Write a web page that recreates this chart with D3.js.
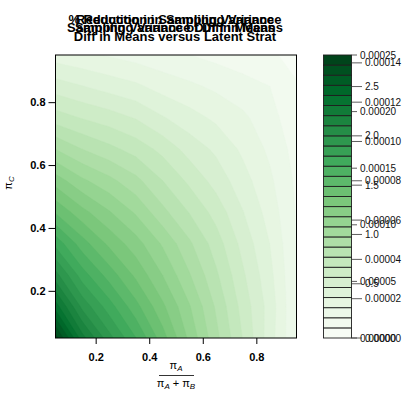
<!DOCTYPE html>
<html>
<head>
<meta charset="utf-8">
<script src="https://cdn.jsdelivr.net/npm/d3@7"></script>
<style>
  body { margin: 0; background: #fff; }
  text { font-family: "Liberation Sans", Arial, sans-serif; }
</style>
</head>
<body>
<div id="chart"></div>
<script>
// grid points: pi_A/(pi_A+pi_B) across, pi_C up
const xVals = [0.05, 0.15, 0.25, 0.35, 0.45, 0.55, 0.65, 0.75, 0.85, 0.95];
const yVals = [0.05, 0.15, 0.25, 0.35, 0.45, 0.55, 0.65, 0.75, 0.85, 0.95];

// sampling variance (x 1e-5), one row per pi_C value, from 0.05 upward
const varGrid = [
  [24.55, 20.00, 17.30, 15.20, 12.90, 10.50, 8.30, 6.20, 4.00, 1.79],
  [21.00, 17.60, 15.60, 13.70, 11.80, 9.90, 7.90, 5.90, 4.10, 1.79],
  [18.20, 15.60, 13.90, 12.30, 10.70, 9.00, 7.30, 5.50, 3.84, 1.79],
  [15.80, 13.80, 12.30, 11.10, 9.70, 8.20, 6.70, 5.05, 3.57, 1.74],
  [13.30, 11.90, 10.80, 9.70, 8.30, 7.10, 5.90, 4.50, 3.20, 1.70],
  [11.20, 10.00, 9.20, 8.30, 7.15, 6.05, 5.00, 3.93, 2.86, 1.61],
  [8.93, 8.04, 7.41, 6.79, 5.98, 5.00, 4.29, 3.39, 2.50, 1.43],
  [6.70, 6.20, 5.80, 5.30, 4.55, 3.93, 3.39, 2.86, 2.14, 1.16],
  [4.91, 4.50, 4.10, 3.75, 3.21, 2.86, 2.50, 2.14, 1.79, 0.94],
  [3.13, 2.86, 2.59, 2.32, 2.05, 1.79, 1.52, 1.25, 0.98, 0.71]
];

// overplotted titles, one list per line
const titleLine1 = ["% Reduction in Sampling Variance", "Reduction in Sampling Variance"];
const titleLine2 = ["Sampling Variance of Diff in Means", "Sampling Variance Diff in Means"];
const titleLine3 = ["Diff in Means versus Latent Strat"];

const xTicks = [0.2, 0.4, 0.6, 0.8];
const yTicks = [0.2, 0.4, 0.6, 0.8];

// colour key ticks of the three overlaid keys
const keyTicksA = [0, 5, 10, 15, 20, 25];          // x 1e-5
const keyTicksB = [0, 2, 4, 6, 8, 10, 12, 14];      // x 1e-5
const keyTicksC = [0.5, 1.0, 1.5, 2.0, 2.5];

const nBands = 28;
const zMax = 25;

const W = 407, H = 407;
const svg = d3.select("#chart").append("svg").attr("width", W).attr("height", H);

const x = d3.scaleLinear().domain([0.05, 0.95]).range([55.5, 296.5]);
const y = d3.scaleLinear().domain([0.05, 0.95]).range([338, 55]);

const step = zMax / nBands;
const thresholds = d3.range(nBands).map((k) => k * step);
const greens = d3.piecewise(d3.interpolateRgb, d3.schemeGreens[9]);
const bandColor = (k) => greens(k / (nBands - 1));

// contour bands
const nx = xVals.length, ny = yVals.length;
const flat = [];
varGrid.forEach((row) => row.forEach((v) => flat.push(v)));
const dx = xVals[1] - xVals[0], dy = yVals[1] - yVals[0];
const proj = d3.geoTransform({
  point: function (gx, gy) {
    this.stream.point(x(xVals[0] + (gx - 0.5) * dx), y(yVals[0] + (gy - 0.5) * dy));
  }
});
const path = d3.geoPath(proj);
const contours = d3.contours().size([nx, ny]).thresholds(thresholds)(flat);

svg.append("clipPath").attr("id", "clip")
  .append("rect").attr("x", 55.5).attr("y", 55).attr("width", 241).attr("height", 283);

svg.append("g").attr("clip-path", "url(#clip)")
  .selectAll("path").data(contours).enter().append("path")
  .attr("d", path)
  .attr("fill", (d, i) => bandColor(i))
  .attr("stroke", (d, i) => bandColor(i))
  .attr("stroke-width", 0.4);

svg.append("rect").attr("x", 55.5).attr("y", 55).attr("width", 241).attr("height", 283)
  .attr("fill", "none").attr("stroke", "#000").attr("stroke-width", 1);

// axes
const xAxis = svg.append("g").attr("transform", "translate(0,338)")
  .call(d3.axisBottom(x).tickValues(xTicks).tickSize(6).tickPadding(9).tickFormat(d3.format(".1f")));
const yAxis = svg.append("g").attr("transform", "translate(55.5,0)")
  .call(d3.axisLeft(y).tickValues(yTicks).tickSize(7).tickPadding(3).tickFormat(d3.format(".1f")));
[xAxis, yAxis].forEach((g) => {
  g.select(".domain").remove();
  g.selectAll("line").attr("stroke", "#000");
  g.selectAll("text").attr("font-family", "Liberation Sans, Arial, sans-serif")
    .attr("font-size", 11).attr("font-weight", "bold").attr("fill", "#000");
});

// titles (several plots drawn on top of each other)
const titleX = 175;
[[titleLine1, 23.5], [titleLine2, 32], [titleLine3, 41]].forEach(([lines, by]) => {
  lines.forEach((t) => {
    svg.append("text").attr("x", titleX).attr("y", by)
      .attr("text-anchor", "middle").attr("font-size", 13).attr("font-weight", "bold")
      .text(t);
  });
});

// x label: pi_A / (pi_A + pi_B)
const xl = svg.append("g");
const num = xl.append("text").attr("x", 176).attr("y", 369).attr("text-anchor", "middle").attr("font-size", 11);
num.append("tspan").text("\u03c0");
num.append("tspan").attr("font-size", 8).attr("font-style", "italic").attr("dy", 2).text("A");
xl.append("line").attr("x1", 159).attr("x2", 194).attr("y1", 375.5).attr("y2", 375.5)
  .attr("stroke", "#000").attr("stroke-width", 0.8);
const den = xl.append("text").attr("x", 176).attr("y", 387).attr("text-anchor", "middle").attr("font-size", 11);
den.append("tspan").text("\u03c0");
den.append("tspan").attr("font-size", 8).attr("font-style", "italic").attr("dy", 2).text("A");
den.append("tspan").attr("dy", -2).text(" + \u03c0");
den.append("tspan").attr("font-size", 8).attr("font-style", "italic").attr("dy", 2).text("B");

// y label: pi_C
const yl = svg.append("text").attr("transform", "translate(12,183) rotate(-90)")
  .attr("text-anchor", "middle").attr("font-size", 11);
yl.append("tspan").text("\u03c0");
yl.append("tspan").attr("font-size", 8).attr("font-style", "italic").attr("dy", 2).text("C");

// colour key
const kx = 323.5, kw = 28;
const kA = d3.scaleLinear().domain([0, zMax]).range([338, 55]);
const kB = d3.scaleLinear().domain([0, 14.4]).range([338, 55]);
const kC = d3.scaleLinear().domain([-0.05, 2.82]).range([338, 55]);

svg.append("g").selectAll("rect").data(thresholds).enter().append("rect")
  .attr("x", kx).attr("width", kw)
  .attr("y", (d) => kA(d + step))
  .attr("height", (d) => kA(d) - kA(d + step))
  .attr("fill", (d, i) => bandColor(i))
  .attr("stroke", "#1e1e1e").attr("stroke-width", 0.9);

function keyTicks(scale, ticks, fmt, tickEnd, labelX) {
  const g = svg.append("g");
  ticks.forEach((t) => {
    g.append("line").attr("x1", kx + kw).attr("x2", tickEnd)
      .attr("y1", scale(t)).attr("y2", scale(t)).attr("stroke", "#333").attr("stroke-width", 0.8);
    g.append("text").attr("x", labelX).attr("y", scale(t)).attr("dy", "0.35em")
      .attr("font-size", 10).attr("fill", "#111").text(fmt(t));
  });
}
keyTicks(kA, keyTicksA, (v) => (v * 1e-5).toFixed(5), 357, 360);
keyTicks(kB, keyTicksB, (v) => (v * 1e-5).toFixed(5), 362, 365);
keyTicks(kC, keyTicksC, (v) => v.toFixed(1), 362, 365);
</script>
</body>
</html>
